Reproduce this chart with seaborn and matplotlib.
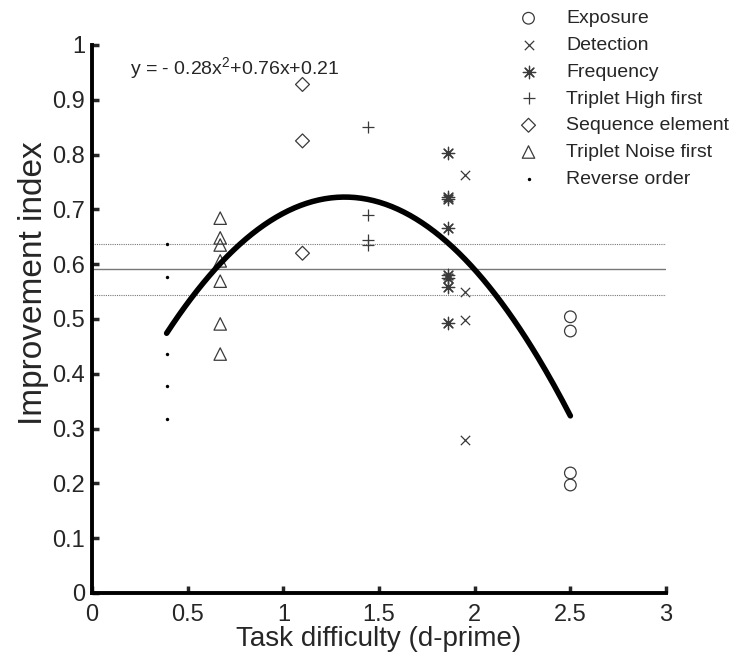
import matplotlib
matplotlib.use('Agg')
import numpy as np
import pandas as pd
import matplotlib.pyplot as plt
import seaborn as sns

# values
exposure_x = [2.5, 2.5, 2.5, 2.5]
exposure_y = [0.504, 0.478, 0.219, 0.197]

detection_x = [1.95, 1.95, 1.95, 1.95]
detection_y = [0.763, 0.549, 0.498, 0.279]

frequency_x = [1.86, 1.86, 1.86, 1.86, 1.86, 1.86, 1.86, 1.86]
frequency_y = [0.803, 0.723, 0.719, 0.666, 0.580, 0.575, 0.558, 0.493]

high_first_x = [1.44, 1.44, 1.44, 1.44]
high_first_y = [0.850, 0.690, 0.645, 0.635]

sequence_x = [1.1, 1.1, 1.1]
sequence_y = [0.928, 0.825, 0.620]

noise_first_x = [0.67, 0.67, 0.67, 0.67, 0.67, 0.67, 0.67]
noise_first_y = [0.684, 0.648, 0.635, 0.606, 0.569, 0.491, 0.436]

reverse_x = [0.39, 0.39, 0.39, 0.39, 0.39]
reverse_y = [0.637, 0.577, 0.436, 0.378, 0.318]

# quadratic fit (a, b, c) and its x range
fit_coef = [-0.287, 0.758, 0.222]
fit_range = [0.39, 2.5]

# mean and +/- band
mean_level = 0.591
band_levels = [0.544, 0.637]

sns.set_style('ticks')
plt.rcParams['font.family'] = ['Liberation Sans', 'DejaVu Sans']
plt.rcParams['mathtext.fontset'] = 'custom'
plt.rcParams['mathtext.rm'] = 'Liberation Sans'
plt.rcParams['mathtext.it'] = 'Liberation Sans'

fig = plt.figure(figsize=(7.45, 6.55), dpi=100)
ax = fig.add_axes([0.1235, 0.0947, 0.7705, 0.8366])

mc = '#3a3a3a'
groups = [
    ('Exposure', exposure_x, exposure_y, 'o', 70),
    ('Detection', detection_x, detection_y, 'x', 45),
    ('Frequency', frequency_x, frequency_y, (8, 2, 0), 80),
    ('Triplet High first', high_first_x, high_first_y, '+', 80),
    ('Sequence element', sequence_x, sequence_y, 'D', 50),
    ('Triplet Noise first', noise_first_x, noise_first_y, '^', 80),
    ('Reverse order', reverse_x, reverse_y, '.', 20),
]

# reference lines
ax.axhline(mean_level, color='#777777', lw=1.0, zorder=1)
for lv in band_levels:
    ax.axhline(lv, color='#777777', lw=0.8, ls=(0, (1, 1)), zorder=1)

for name, xs, ys, mk, sz in groups:
    d = pd.DataFrame({'x': xs, 'y': ys})
    if mk in ('o', 'D', '^'):
        sns.scatterplot(data=d, x='x', y='y', marker=mk, s=sz, facecolors='none',
                        edgecolor=mc, linewidth=0.9, label=name, ax=ax, zorder=3)
    elif mk == '.':
        sns.scatterplot(data=d, x='x', y='y', marker='o', s=sz * 0.3, color='black',
                        edgecolor='black', linewidth=0, label=name, ax=ax, zorder=3)
    else:
        sns.scatterplot(data=d, x='x', y='y', marker=mk, s=sz, color=mc,
                        linewidth=0.9, label=name, ax=ax, zorder=3)

# fitted curve
xf = np.linspace(fit_range[0], fit_range[1], 200)
yf = np.polyval(fit_coef, xf)
sns.lineplot(x=xf, y=yf, color='black', lw=4, ax=ax, zorder=4)

ax.text(0.2, 0.958, 'y = - 0.28x$^2$+0.76x+0.21', fontsize=14, va='center', ha='left')

ax.set_xlim(0, 3)
ax.set_ylim(0, 1)
ax.set_xticks([0, 0.5, 1, 1.5, 2, 2.5, 3])
ax.set_xticklabels(['0', '0.5', '1', '1.5', '2', '2.5', '3'])
ax.set_yticks(np.round(np.arange(0, 1.01, 0.1), 1))
ax.set_yticklabels(['0', '0.1', '0.2', '0.3', '0.4', '0.5', '0.6', '0.7', '0.8', '0.9', '1'])
ax.tick_params(direction='in', length=5, width=2.5, labelsize=17)
ax.tick_params(axis='x', pad=8)
ax.tick_params(axis='y', pad=5)
for s in ['left', 'bottom']:
    ax.spines[s].set_linewidth(2.8)
    ax.spines[s].set_color('black')
sns.despine(ax=ax)
ax.set_xlabel('Task difficulty (d-prime)', fontsize=20, labelpad=0)
ax.set_ylabel('Improvement index', fontsize=24)
ax.yaxis.set_label_coords(-0.075, 0.565)

leg = ax.legend(loc='upper left', bbox_to_anchor=(0.682, 0.997), bbox_transform=fig.transFigure,
                frameon=False, fontsize=14, handletextpad=1.3, labelspacing=0.47,
                borderaxespad=0, handlelength=1.3)

fig.savefig('out.png', dpi=100)
